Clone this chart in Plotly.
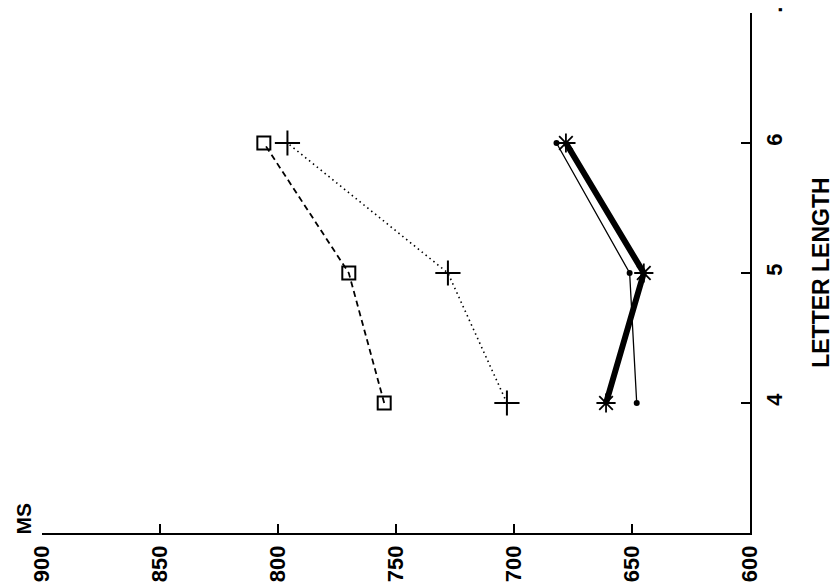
import plotly.graph_objects as go

letter_length = [4, 5, 6]
square_ms = [755, 770, 806]   # dashed, open squares
plus_ms = [703, 728, 796]     # dotted, plus markers
dot_ms = [648, 651, 682]      # thin solid, small dots
star_ms = [661, 645, 678]     # thick solid, asterisks

x_ticks = [900, 850, 800, 750, 700, 650, 600]
y_tickvals = [4, 5, 6, 7]
y_ticktext = ["4", "5", "6", "."]

FONT = "Liberation Sans, Arial, sans-serif"

fig = go.Figure()
fig.add_trace(go.Scatter(
    x=square_ms, y=letter_length, mode="lines+markers",
    line=dict(color="black", width=1.8, dash="6px,4px"),
    marker=dict(symbol="square-open", size=13, color="black", line=dict(width=2, color="black")),
))
fig.add_trace(go.Scatter(
    x=plus_ms, y=letter_length, mode="lines+markers",
    line=dict(color="black", width=1.6, dash="1.5px,3.5px"),
    marker=dict(symbol="cross-thin-open", size=18, color="black", line=dict(width=2, color="black")),
))
fig.add_trace(go.Scatter(
    x=dot_ms, y=letter_length, mode="lines+markers",
    line=dict(color="black", width=1.3),
    marker=dict(symbol="circle", size=6, color="black"),
))
fig.add_trace(go.Scatter(
    x=star_ms, y=letter_length, mode="lines+markers",
    line=dict(color="black", width=6),
    marker=dict(symbol="asterisk-open", size=16, color="black", line=dict(width=1.8, color="black")),
))

fig.update_layout(
    width=837, height=586,
    margin=dict(l=42, r=87, t=13, b=53, autoexpand=False),
    paper_bgcolor="white", plot_bgcolor="white",
    showlegend=False,
    font=dict(family=FONT, color="black"),
    xaxis=dict(
        range=[900, 600], tickvals=x_ticks, ticktext=[str(v) for v in x_ticks],
        tickangle=-90, ticks="inside", ticklen=9, tickwidth=1.5, tickcolor="black",
        showline=True, linecolor="black", linewidth=1.6, showgrid=False, zeroline=False,
        ticklabelstandoff=2, automargin=False,
        tickfont=dict(family=FONT, size=22, weight="bold", color="black"),
    ),
    yaxis=dict(
        range=[3, 7], side="right", tickvals=y_tickvals, ticktext=y_ticktext,
        tickangle=-90, ticks="inside", ticklen=9, tickwidth=1.5, tickcolor="black",
        showline=True, linecolor="black", linewidth=1.6, showgrid=False, zeroline=False,
        ticklabelstandoff=4, automargin=False,
        tickfont=dict(family=FONT, size=22, weight="bold", color="black"),
    ),
    annotations=[
        dict(text="LETTER LENGTH", xref="paper", yref="paper", x=1.1, y=0.5,
             textangle=-90, showarrow=False, xanchor="center", yanchor="middle",
             font=dict(family=FONT, size=23, weight="bold", color="black")),
        dict(text="MS", xref="paper", yref="paper", x=-0.026, y=0.027,
             textangle=-90, showarrow=False, xanchor="center", yanchor="middle",
             font=dict(family=FONT, size=21, weight="bold", color="black")),
    ],
)

fig.write_html("out.html")
